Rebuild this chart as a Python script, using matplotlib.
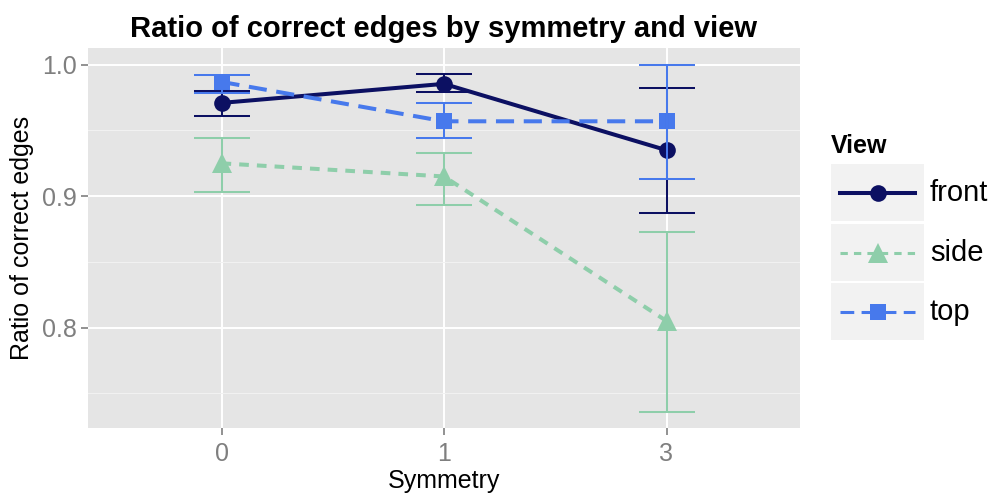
import numpy as np
import matplotlib
matplotlib.use("Agg")
import matplotlib.pyplot as plt
from matplotlib.lines import Line2D

# values
symmetry = ["0", "1", "3"]
views = ["front", "side", "top"]
front_mean = [0.971, 0.9855, 0.935]
front_lo = [0.961, 0.979, 0.8875]
front_hi = [0.980, 0.993, 0.982]
side_mean = [0.925, 0.915, 0.805]
side_lo = [0.903, 0.8935, 0.736]
side_hi = [0.9445, 0.933, 0.873]
top_mean = [0.987, 0.957, 0.957]
top_lo = [0.9785, 0.944, 0.913]
top_hi = [0.9925, 0.971, 1.000]

colors = {"front": "#0C1062", "side": "#8ECEAA", "top": "#4779EC"}
markers = {"front": "o", "side": "^", "top": "s"}
msize = {"front": 12, "side": 14, "top": 11}
dashes = {"front": None, "side": (2.4, 2.0), "top": (4.5, 2.4)}
series = {
    "front": (front_mean, front_lo, front_hi),
    "side": (side_mean, side_lo, side_hi),
    "top": (top_mean, top_lo, top_hi),
}

plt.rcParams["font.family"] = ["Liberation Sans", "DejaVu Sans"]

fig = plt.figure(figsize=(9.9, 4.96), dpi=100)
ax = fig.add_axes([88 / 990, 68 / 496, 712 / 990, 380 / 496])
ax.set_facecolor("#E5E5E5")
for s in ax.spines.values():
    s.set_visible(False)

x = np.arange(1, len(symmetry) + 1)
lw = 2.9
for v in views:
    m, lo, hi = series[v]
    ln, = ax.plot(x, m, color=colors[v], lw=lw, zorder=3,
                  marker=markers[v], markersize=msize[v], markeredgewidth=0)
    if dashes[v] is not None:
        ln.set_dashes(dashes[v])
for v in views:
    m, lo, hi = series[v]
    m = np.array(m)
    ax.errorbar(x, m, yerr=[m - np.array(lo), np.array(hi) - m], fmt="none",
                ecolor=colors[v], elinewidth=1.45, capsize=20, capthick=1.45, zorder=4)

ax.set_xlim(0.4, 3.6)
ax.set_ylim(0.7235, 1.0128)
ax.set_xticks(x)
ax.set_xticklabels(symmetry)
ax.set_yticks([0.8, 0.9, 1.0])
ax.set_yticklabels(["0.8", "0.9", "1.0"])
ax.set_yticks([0.75, 0.85, 0.95], minor=True)
ax.tick_params(axis="y", which="minor", length=0)
ax.tick_params(which="major", colors="#7F7F7F", labelsize=18, length=5, width=1.2, pad=3)
ax.tick_params(axis="x", which="major", pad=5)
ax.grid(True, which="major", color="white", lw=1.4, zorder=0)
ax.grid(True, which="minor", axis="y", color="#F2F2F2", lw=0.7, zorder=0)
ax.set_axisbelow(True)

ax.set_xlabel("Symmetry", fontsize=18, labelpad=2)
ax.set_ylabel("Ratio of correct edges", fontsize=18, labelpad=6)
ax.set_title("Ratio of correct edges by symmetry and view", fontsize=21,
             fontweight="bold", pad=8)

# legend drawn as ggplot-style keys
fig.text(831 / 990, 1 - 146 / 496, "View", fontsize=18, fontweight="bold",
         va="center", ha="left")
key_tops = [164, 224, 283]
for v, kt in zip(views, key_tops):
    kax = fig.add_axes([831 / 990, 1 - (kt + 57) / 496, 93 / 990, 57 / 496])
    kax.set_facecolor("#F2F2F2")
    for s in kax.spines.values():
        s.set_visible(False)
    kax.set_xticks([])
    kax.set_yticks([])
    kax.set_xlim(0, 1)
    kax.set_ylim(0, 1)
    kl = Line2D([0.1, 0.9], [0.5, 0.5], color=colors[v], lw=lw if v == "front" else 2.2)
    if dashes[v] is not None:
        kl.set_dashes(dashes[v])
    kax.add_line(kl)
    kax.plot([0.5], [0.5], marker=markers[v], color=colors[v],
             markersize=msize[v], markeredgewidth=0)
    fig.text(930 / 990, 1 - (kt + 29) / 496, v, fontsize=21, va="center", ha="left")

fig.savefig("out.png", dpi=100)
